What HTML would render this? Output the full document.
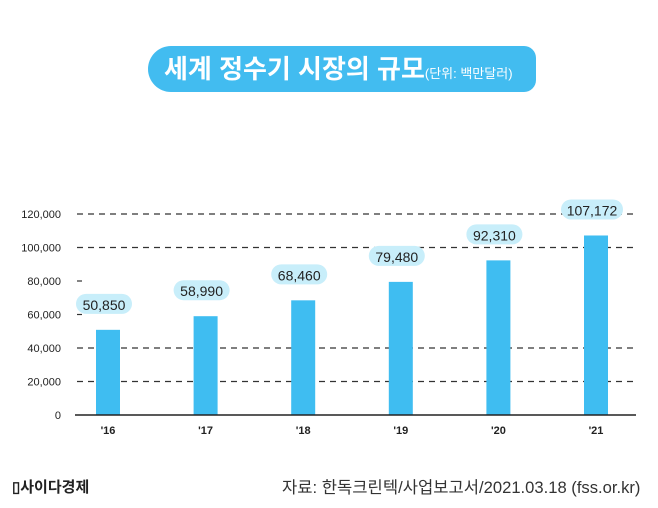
<!DOCTYPE html>
<html><head><meta charset="utf-8"><style>
body{margin:0;width:658px;height:508px;background:#fff;overflow:hidden;font-family:"Liberation Sans","Noto Sans CJK KR",sans-serif;}
.title{position:absolute;left:148px;top:46px;width:388px;height:46px;background:#42bcf0;border-radius:23px 12px 12px 23px;color:#fff;font-weight:bold;font-size:26px;line-height:46px;text-indent:16px;white-space:nowrap;}
.title small{font-size:13px;font-weight:normal;}
</style></head><body>
<div class="title">세계 정수기 시장의 규모<small>(단위: 백만달러)</small></div>
<svg id="c" width="658" height="508" style="position:absolute;left:0;top:0"></svg>
<div style="position:absolute;left:12px;top:476px;font-size:15px;font-weight:bold;color:#222">▯사이다경제</div>
<div style="position:absolute;left:282px;top:474px;font-size:16.6px;color:#333">자료: 한독크린텍/사업보고서/2021.03.18 (fss.or.kr)</div>
<script>
const categories=["'16","'17","'18","'19","'20","'21"];
const values=[50850,58990,68460,79480,92310,107172];
const labels=["50,850","58,990","68,460","79,480","92,310","107,172"];
const ticks=[0,20000,40000,60000,80000,100000,120000];
const tickLabels=["0","20,000","40,000","60,000","80,000","100,000","120,000"];
const svg=document.getElementById('c');const NS='http://www.w3.org/2000/svg';
function y(v){return 415-v*(201/120000);}
function x(i){return 108+i*97.6;}
function mk(t,a){const e=document.createElementNS(NS,t);for(const k in a)e.setAttribute(k,a[k]);svg.appendChild(e);return e;}
ticks.forEach((t,i)=>{
 if(t>0){const full=!(t===60000||t===80000);
  const g=mk('line',{x1:77,x2:full?636:82,y1:y(t),y2:y(t),stroke:'#333','stroke-width':1.2,'stroke-dasharray':'6,5'});
  }
 const l=mk('text',{x:61,y:y(t)+4,'text-anchor':'end','font-size':11,fill:'#222'});l.textContent=tickLabels[i];
 
});
values.forEach((v,i)=>{
 const b=mk('rect',{x:x(i)-12,y:y(v),width:24,height:415-y(v),fill:'#3fbdf1'});
 
 const w=labels[i].length>6?62:56;
 const p=mk('rect',{x:x(i)-4-w/2,y:y(v)-36,width:w,height:20,rx:10,fill:'#c8eefa'});
 
 const t=mk('text',{x:x(i)-4,y:y(v)-20,'text-anchor':'middle','font-size':14,fill:'#222'});t.textContent=labels[i];
 
 const c=mk('text',{x:x(i),y:434,'text-anchor':'middle','font-size':11,'font-weight':'bold',fill:'#222'});c.textContent=categories[i];
 
});
const ax=mk('line',{x1:75,x2:636,y1:415,y2:415,stroke:'#222','stroke-width':1.5});

</script>
</body></html>
